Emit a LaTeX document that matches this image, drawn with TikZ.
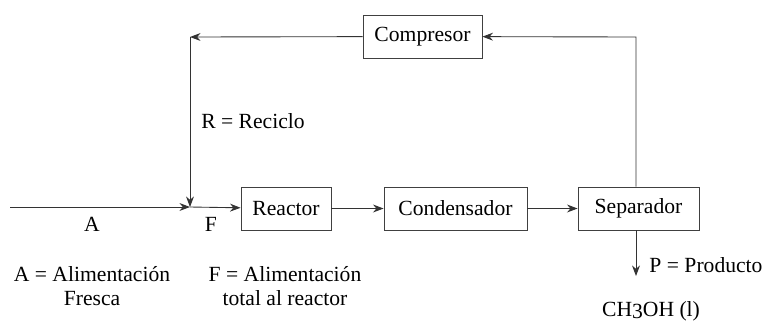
\documentclass[tikz,border=0pt]{standalone}
\usepackage{fontspec}
\setmainfont{Liberation Serif}
\usetikzlibrary{arrows.meta,shadows}

\begin{document}
\begin{tikzpicture}[x=0.02cm,y=-0.02cm,>={Stealth[length=6pt,width=4.5pt]},
    font=\fontsize{12.3}{14}\selectfont,
    unit/.style={draw=black!75,fill=white,line width=0.5pt,minimum height=0.86cm,
        inner sep=0pt,drop shadow={shadow xshift=0.6pt,shadow yshift=-0.6pt,fill=black!45,opacity=1}},
    flow/.style={->,line width=0.5pt,black!80}]

    \useasboundingbox (0,0) rectangle (764,322);

    % ============================================
    % Units
    % ============================================

    \node[unit,minimum width=1.80cm] (reactor)     at (286,208.5) {Reactor};
    \node[unit,minimum width=2.86cm] (condensador) at (455.5,208.5) {Condensador};
    \node[unit,minimum width=2.42cm] (separador)   at (638.5,208.5) {Separador};
    \node[unit,minimum width=2.38cm] (compresor)   at (422.5,36.5) {Compresor};

    % Points of the recycle loop
    \coordinate (in)   at (10,207);
    \coordinate (mix)  at (190,207);
    \coordinate (corner) at (190,37);
    \coordinate (top)  at (636,37);
    \coordinate (out)  at (636,276);

    % ============================================
    % Streams
    % ============================================

    \draw[flow] (in) -- (mix);
    \draw[flow] (mix) -- (reactor);
    \draw[flow] (reactor) -- (condensador);
    \draw[flow] (condensador) -- (separador);
    \draw[flow] (separador.north -| top) -- (top) -- (compresor);
    \draw[flow] (compresor) -- (corner);
    \draw[flow] (corner) -- (mix);
    \draw[flow] (separador.south -| out) -- (out);

    % ============================================
    % Labels
    % ============================================

    \node (lA) at (92,224) {A};
    \node (lF) at (211,224) {F};
    \node (lR) at (253,121) {R = Reciclo};
    \node[align=center] (defA) at (92,286) {A = Alimentación\\Fresca};
    \node[align=center] (defF) at (285,286) {F = Alimentación\\total al reactor};
    \node (lP) at (706,265) {P = Producto};
    \node (lCH) at (651,311) {CH\raisebox{-0.25ex}{3}OH (l)};

\end{tikzpicture}
\end{document}
